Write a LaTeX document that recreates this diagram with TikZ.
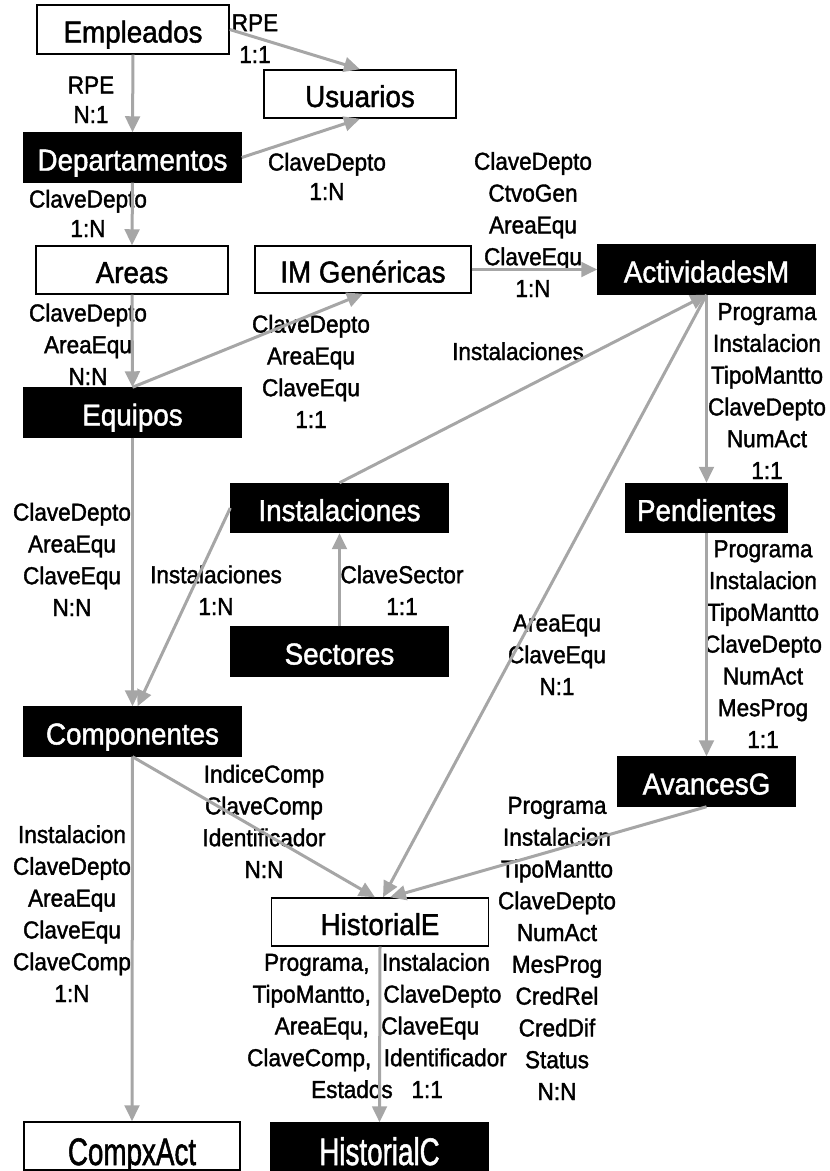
\documentclass[tikz,border=0pt]{standalone}
\usepackage{fontspec}
\setmainfont{Liberation Sans}[FakeStretch=0.92,FakeBold=1.5]
\usetikzlibrary{arrows.meta,calc}
\definecolor{linkgray}{RGB}{166,166,166}
% 1 unit = one pixel of the layout grid (0.75pt), y grows downwards
\newcommand\lblfont{\fontsize{18.4}{23.85}\selectfont}
\newcommand\lblfonttight{\fontsize{18.4}{22.1}\selectfont}
\newcommand\boxfont{\fontsize{22.65}{27}\selectfont}
\begin{document}
\begin{tikzpicture}[x=0.75pt,y=-0.75pt,
  ent/.style={draw=black, line width=1.1pt, fill=white, inner sep=0pt,
    minimum height=49*0.75pt, font=\boxfont, text height=26*0.75pt, text depth=0pt},
  entb/.style={ent, fill=black, text=white},
  % multi-line labels are placed by the baseline of their last line
  lbl/.style={font=\lblfont, align=center, anchor=base, inner sep=0pt},
  lblt/.style={lbl, font=\lblfonttight},
  link/.style={draw=linkgray, line width=2.25pt, -{Triangle[length=12pt,width=11pt]}}]
\useasboundingbox (0,0) rectangle (830,1171);

% entities
\node[ent,  minimum width=192*0.75pt] (emp)   at (133,29.5)   {Empleados};
\node[ent,  minimum width=192*0.75pt, minimum height=48*0.75pt] (usu) at (360,94) {Usuarios};
\node[entb, minimum width=217*0.75pt] (dep)   at (132.5,157.5) {Departamentos};
\node[ent,  minimum width=192*0.75pt, minimum height=48*0.75pt] (areas) at (132,270) {Areas};
\node[ent,  minimum width=216*0.75pt, minimum height=47*0.75pt] (imgen) at (363,269.5) {IM Genéricas};
\node[entb, minimum width=217*0.75pt] (act)   at (706.5,269.5) {ActividadesM};
\node[entb, minimum width=217*0.75pt] (equ)   at (132.5,412.5) {Equipos};
\node[entb, minimum width=217*0.75pt] (inst)  at (339.5,508)   {Instalaciones};
\node[entb, minimum width=217*0.75pt] (sect)  at (339.5,651.5) {Sectores};
\node[entb, minimum width=161*0.75pt] (pend)  at (706.5,508)   {Pendientes};
\node[entb, minimum width=177*0.75pt] (av)    at (706.5,781.5) {AvancesG};
\node[entb, minimum width=217*0.75pt] (comp)  at (132.5,731.5) {Componentes};
\node[ent,  minimum width=217*0.75pt, minimum height=48*0.75pt] (histE) at (380,922) {HistorialE};
\node[ent,  minimum width=216*0.75pt, minimum height=48*0.75pt, text height=38*0.75pt] (compx) at (132,1146) {\scalebox{1}[1.27]{CompxAct}};
\node[entb, minimum width=217*0.75pt, minimum height=48*0.75pt, text height=36*0.75pt] (histC) at (379.5,1147) {\scalebox{1}[1.27]{HistorialC}};

% relation labels
\node[lbl]  (lEmpUsu)   at (255,63)   {RPE\\1:1};
\node[lblt] (lEmpDep)   at (91,123)   {RPE\\N:1};
\node[lblt] (lDepUsu)   at (327,200)  {ClaveDepto\\1:N};
\node[lblt] (lDepArea)  at (88,237)   {ClaveDepto\\1:N};
\node[lbl]  (lImAct)    at (533,297)  {ClaveDepto\\CtvoGen\\AreaEqu\\ClaveEqu\\1:N};
\node[lbl]  (lAreaEqu)  at (88,385)   {ClaveDepto\\AreaEqu\\N:N};
\node[lbl]  (lEquIm)    at (311,428)  {ClaveDepto\\AreaEqu\\ClaveEqu\\1:1};
\node[lbl]  (lInstAct)  at (518,360)  {Instalaciones};
\node[lbl]  (lActPend)  at (767,479)  {Programa\\Instalacion\\TipoMantto\\ClaveDepto\\NumAct\\1:1};
\node[lbl]  (lEquComp)  at (72,616)   {ClaveDepto\\AreaEqu\\ClaveEqu\\N:N};
\node[lbl]  (lInstComp) at (216,615)  {Instalaciones\\1:N};
\node[lbl]  (lSectInst) at (402,615)  {ClaveSector\\1:1};
\node[lbl]  (lActHist)  at (557,695)  {AreaEqu\\ClaveEqu\\N:1};
\node[lbl]  (lPendAv)   at (763,748)  {Programa\\Instalacion\\TipoMantto\\ClaveDepto\\NumAct\\MesProg\\1:1};
\node[lbl]  (lCompHist) at (264,878)  {IndiceComp\\ClaveComp\\Identificador\\N:N};
\node[lbl]  (lAvHist)   at (557,1100) {Programa\\Instalacion\\TipoMantto\\ClaveDepto\\NumAct\\MesProg\\CredRel\\CredDif\\Status\\N:N};
\node[lbl]  (lCompCx)   at (72,1002)  {Instalacion\\ClaveDepto\\AreaEqu\\ClaveEqu\\ClaveComp\\1:N};
\node[lbl]  (lHist)     at (377,1098) {Programa,~ Instalacion\\TipoMantto,~ ClaveDepto\\AreaEqu,~ ClaveEqu\\ClaveComp,~ Identificador\\Estados~~ 1:1};

% relations
\draw[link] (emp.south) -- (dep.north);
\draw[link] (emp.east) -- (usu.north);
\draw[link] (dep.east) -- (usu.south);
\draw[link] (dep.south) -- (areas.north);
\draw[link] (areas.south) -- (equ.north);
\draw[link] (equ.north) -- (imgen.south);
\draw[link] (imgen.east) -- (act.west);
\draw[link] (inst.north) -- (act.south);
\draw[link] (act.south) -- ($(histE.north)+(3,0)$);
\draw[link] (act.south) -- (pend.north);
\draw[link] (pend.south) -- (av.north);
\draw[link] (av.south) -- ($(histE.north)+(10,0)$);
\draw[link] (equ.south) -- (comp.north);
\draw[link] (inst.west) -- ($(comp.north)+(5,0)$);
\draw[link] (sect.north) -- (inst.south);
\draw[link] (comp.south) -- ($(histE.north)+(-5,0)$);
\draw[link] (comp.south) -- (compx.north);
\draw[link] (histE.south) -- (histC.north);
\end{tikzpicture}
\end{document}
